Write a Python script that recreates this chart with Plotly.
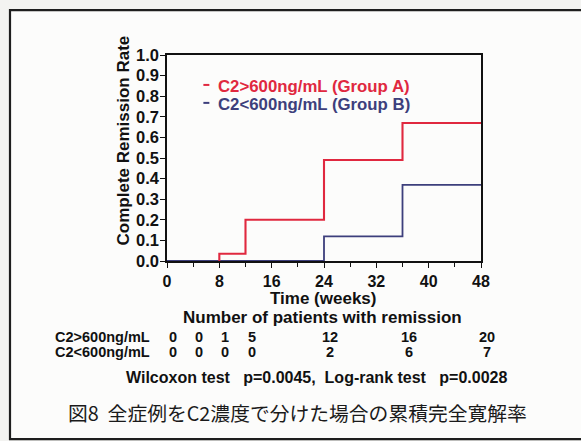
import plotly.graph_objects as go

# ---------------- data ----------------
weeks_A = [8, 8, 12, 24, 36, 48]
rate_A = [0.0, 0.035, 0.20, 0.49, 0.67, 0.67]
weeks_B = [0, 24, 36, 48]
rate_B = [0.0, 0.12, 0.37, 0.37]

x_tick_vals = [0, 8, 16, 24, 32, 40, 48]
y_tick_vals = [0.0, 0.1, 0.2, 0.3, 0.4, 0.5, 0.6, 0.7, 0.8, 0.9, 1.0]
y_tick_text = ["0.0", "0.1", "0.2", "0.3", "0.4", "0.5", "0.6", "0.7", "0.8", "0.9", "1.0"]

table_weeks = [0, 4, 8, 12, 24, 36, 48]
table_A = [0, 0, 1, 5, 12, 16, 20]
table_B = [0, 0, 0, 0, 2, 6, 7]

label_A = "C2&gt;600ng/mL (Group A)"
label_B = "C2&lt;600ng/mL (Group B)"
row_A = "C2&gt;600ng/mL"
row_B = "C2&lt;600ng/mL"
stats_text = ("Wilcoxon test\u00a0\u00a0\u00a0p=0.0045,\u00a0\u00a0Log-rank test"
              "\u00a0\u00a0\u00a0p=0.0028")
caption = "図8\u00a0\u00a0全症例をC2濃度で分けた場合の累積完全寛解率"

RED = "#e0283f"
BLUE = "#3d3f7c"
FONT = "Liberation Sans, Arial, sans-serif"

# ---------------- geometry helpers ----------------
WIDTH, HEIGHT = 581, 441
L, T, R, B = 166.5, 55, 99.5, 179.5
PW = WIDTH - L - R
PH = HEIGHT - T - B


def fx(px):
    return (px - L) / PW


def fy(py):
    return (T + PH - py) / PH


fig = go.Figure()
fig.add_trace(go.Scatter(x=weeks_B, y=rate_B, mode="lines", line_shape="hv",
                         line=dict(color=BLUE, width=1.8), showlegend=False,
                         cliponaxis=False))
fig.add_trace(go.Scatter(x=weeks_A, y=rate_A, mode="lines", line_shape="hv",
                         line=dict(color=RED, width=2.1), showlegend=False,
                         cliponaxis=False))

annotations = []
shapes = []

# outer frame
shapes.append(dict(type="rect", xref="paper", yref="paper",
                   x0=fx(9), x1=fx(600), y0=fy(440), y1=fy(10),
                   line=dict(color="#1e1e1e", width=2.2), fillcolor="#fcfcfb",
                   layer="below"))

# legend (dash + coloured text)
for label, color, py in [(label_A, RED, 87), (label_B, BLUE, 105)]:
    shapes.append(dict(type="line", xref="paper", yref="paper",
                       x0=fx(203), x1=fx(209), y0=fy(py - 2), y1=fy(py - 2),
                       line=dict(color=color, width=2)))
    annotations.append(dict(xref="paper", yref="paper", x=fx(216), y=fy(py),
                            text=label, showarrow=False, xanchor="left",
                            yanchor="middle",
                            font=dict(family=FONT, size=16.8, color=color,
                                      weight="bold")))

# axis titles
annotations.append(dict(xref="paper", yref="paper", x=fx(123), y=fy(141),
                        text="Complete Remission Rate", textangle=-90,
                        showarrow=False, xanchor="center", yanchor="middle",
                        font=dict(family=FONT, size=17, color="#111",
                                  weight="bold")))
annotations.append(dict(xref="paper", yref="paper", x=fx(323), y=fy(299),
                        text="Time (weeks)", showarrow=False,
                        xanchor="center", yanchor="middle",
                        font=dict(family=FONT, size=17, color="#111",
                                  weight="bold")))
annotations.append(dict(xref="paper", yref="paper", x=fx(322), y=fy(318),
                        text="Number of patients with remission",
                        showarrow=False, xanchor="center", yanchor="middle",
                        font=dict(family=FONT, size=17, color="#111",
                                  weight="bold")))

# table rows
for lab, vals, py in [(row_A, table_A, 338), (row_B, table_B, 353)]:
    annotations.append(dict(xref="paper", yref="paper", x=fx(151), y=fy(py),
                            text=lab, showarrow=False, xanchor="right",
                            yanchor="middle",
                            font=dict(family=FONT, size=14.5, color="#111",
                                      weight="bold")))
    for wk, v in zip(table_weeks, vals):
        annotations.append(dict(xref="x", yref="paper", x=wk, y=fy(py),
                                xshift=6, text=str(v), showarrow=False,
                                xanchor="center", yanchor="middle",
                                font=dict(family=FONT, size=14.5,
                                          color="#111", weight="bold")))

annotations.append(dict(xref="paper", yref="paper", x=fx(316), y=fy(378),
                        text=stats_text, showarrow=False,
                        xanchor="center", yanchor="middle",
                        font=dict(family=FONT, size=16, color="#111",
                                  weight="bold")))
annotations.append(dict(xref="paper", yref="paper", x=fx(297), y=fy(413),
                        text=caption, showarrow=False,
                        xanchor="center", yanchor="middle",
                        font=dict(family="Noto Sans CJK JP", size=19.8,
                                  color="#1a1a1a")))

fig.update_layout(
    width=WIDTH, height=HEIGHT,
    margin=dict(l=L, r=R, t=T, b=B, pad=0),
    paper_bgcolor="#f3f3f1",
    plot_bgcolor="#ffffff",
    showlegend=False,
    annotations=annotations,
    shapes=shapes,
    xaxis=dict(range=[0, 48], tickvals=x_tick_vals,
               ticks="outside", ticklen=5, tickwidth=1.3, tickcolor="#111",
               minor=dict(dtick=4, tick0=0, ticks="outside", ticklen=4,
                          tickwidth=1.2, tickcolor="#111"),
               showline=True, linecolor="#111", linewidth=1.6, mirror=True,
               showgrid=False, zeroline=False, layer="above traces",
               tickfont=dict(family=FONT, size=16, color="#111",
                             weight="bold")),
    yaxis=dict(range=[0, 1.0], tickvals=y_tick_vals, ticktext=y_tick_text,
               ticks="outside", ticklen=5, tickwidth=1.3, tickcolor="#111",
               showline=True, linecolor="#111", linewidth=1.6, mirror=True,
               showgrid=False, zeroline=False, layer="above traces",
               ticklabelstandoff=-2,
               tickfont=dict(family=FONT, size=16.5, color="#111",
                             weight="bold")),
)

fig.write_html("out.html")
